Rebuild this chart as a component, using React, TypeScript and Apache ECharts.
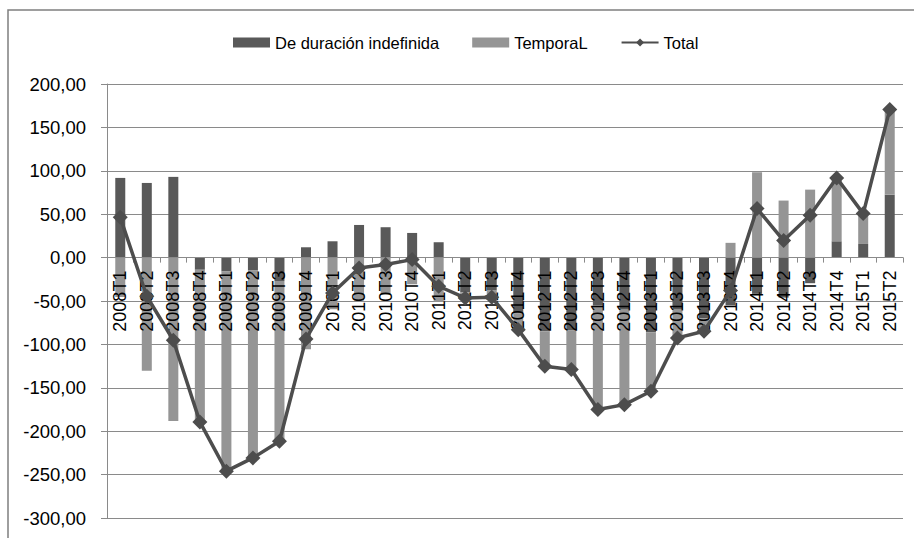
import React, { useEffect, useRef } from "react";
import * as echarts from "echarts";

const categories = [
  "2008T1", "2008T2", "2008T3", "2008T4",
  "2009T1", "2009T2", "2009T3", "2009T4",
  "2010T1", "2010T2", "2010T3", "2010T4",
  "2011T1", "2011T2", "2011T3", "2011T4",
  "2012T1", "2012T2", "2012T3", "2012T4",
  "2013T1", "2013T2", "2013T3", "2013T4",
  "2014T1", "2014T2", "2014T3", "2014T4",
  "2015T1", "2015T2",
];

const indefinida = [
  91.8, 86, 93, -14,
  -16, -15, -27, 11.9,
  18.8, 37.6, 35, 28.4,
  17.7, -40, -38, -64,
  -85, -84, -55, -60,
  -86, -60, -70, -55,
  -41.8, -46.1, -29.5, 18.8,
  15.7, 72.6,
];

const temporal = [
  -45.4, -130.5, -188.2, -175.3,
  -230, -215.8, -184.6, -105.6,
  -59.5, -49.5, -43, -30.7,
  -50.7, -6.5, -7.7, -19,
  -40.2, -45, -120, -109.4,
  -68, -32.5, -14.9, 17,
  98.3, 65.7, 78.3, 73,
  35, 97.9,
];

const total = [
  46.4, -44.5, -95.2, -189.3,
  -246, -230.8, -211.6, -93.7,
  -40.7, -11.9, -8, -2.3,
  -33, -46.5, -45.7, -83,
  -125.2, -129, -175, -169.4,
  -154, -92.5, -84.9, -38,
  56.5, 19.6, 48.8, 91.8,
  50.7, 170.5,
];

const yTicks = { min: -300, max: 200, step: 50 };

const FONT = "'Liberation Sans', Arial, sans-serif";

// plot box
const GRID_TOP = 84;
const GRID_BOTTOM = 20;
const CHART_H = 538;

export default function App() {
  const ref = useRef<HTMLDivElement>(null);

  useEffect(() => {
    if (!ref.current) return;
    const chart = echarts.init(ref.current, undefined, { renderer: "svg" });
    // lift the category axis from the plot's bottom edge up to the zero line
    const plotH = CHART_H - GRID_TOP - GRID_BOTTOM;
    const zeroOffset = -plotH * (0 - yTicks.min) / (yTicks.max - yTicks.min);
    chart.setOption({
      animation: false,
      backgroundColor: "#ffffff",
      textStyle: { fontFamily: FONT },
      graphic: [
        {
          type: "rect",
          shape: { x: 8, y: 10, width: 920, height: 540 },
          style: { fill: "none", stroke: "#7f7f7f", lineWidth: 1.5 },
          silent: true,
          z: -1,
        },
      ],
      legend: {
        left: 228,
        top: 29,
        itemWidth: 37,
        itemHeight: 10,
        itemGap: 33,
        textStyle: { fontSize: 16.5, color: "#000", fontFamily: FONT },
        data: [
          { name: "De duración indefinida", icon: "rect" },
          { name: "TemporaL", icon: "rect" },
          { name: "Total" },
        ],
      },
      grid: {
        left: 107,
        right: 11,
        top: GRID_TOP,
        bottom: GRID_BOTTOM,
        containLabel: false,
        outerBoundsMode: "none",
      },
      xAxis: {
        type: "category",
        data: categories,
        position: "bottom",
        offset: zeroOffset,
        z: 5,
        axisLine: {
          onZero: false,
          lineStyle: { color: "#8a8a8a", width: 1 },
        },
        axisTick: { show: true, length: 5, lineStyle: { color: "#8a8a8a" } },
        axisLabel: {
          rotate: 90,
          margin: 13,
          fontSize: 18,
          color: "#000",
          fontFamily: FONT,
          interval: 0,
        },
        splitLine: { show: false },
      },
      yAxis: {
        type: "value",
        min: yTicks.min,
        max: yTicks.max,
        interval: yTicks.step,
        axisLine: { show: true, onZero: false, lineStyle: { color: "#8a8a8a", width: 1 } },
        axisTick: { show: true, length: 6, lineStyle: { color: "#8a8a8a" } },
        axisLabel: {
          fontSize: 18.5,
          color: "#000",
          margin: 21,
          fontFamily: FONT,
          formatter: (v: number) => v.toFixed(2).replace(".", ","),
        },
        splitLine: { show: true, lineStyle: { color: "#8a8a8a", width: 1 } },
      },
      series: [
        {
          name: "De duración indefinida",
          type: "bar",
          stack: "empleo",
          data: indefinida,
          barWidth: 10,
          itemStyle: { color: "#595959" },
          z: 2,
        },
        {
          name: "TemporaL",
          type: "bar",
          stack: "empleo",
          data: temporal,
          barWidth: 10,
          itemStyle: { color: "#959595" },
          z: 2,
        },
        {
          name: "Total",
          type: "line",
          data: total,
          symbol: "diamond",
          symbolSize: 15,
          lineStyle: { color: "#4d4d4d", width: 3.5 },
          itemStyle: { color: "#4d4d4d" },
          z: 10,
        },
      ],
    });
    return () => chart.dispose();
  }, []);

  return (
    <div
      ref={ref}
      style={{ position: "fixed", left: 0, top: 0, width: 914, height: 538 }}
    />
  );
}
